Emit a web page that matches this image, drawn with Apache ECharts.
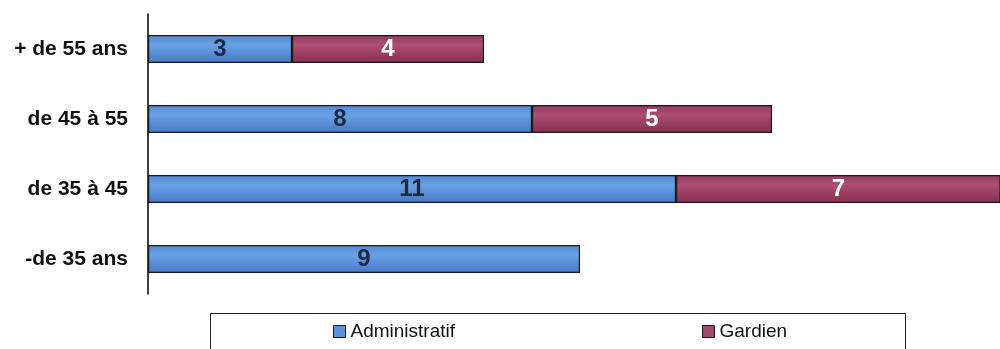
<!DOCTYPE html>
<html>
<head>
<meta charset="utf-8">
<script src="https://cdn.jsdelivr.net/npm/echarts@6/dist/echarts.min.js"></script>
<style>
  html, body { margin: 0; padding: 0; background: #fff; }
  #chart { width: 1000px; height: 349px; }
</style>
</head>
<body>
<div id="chart"></div>
<script>
// Age groups, top to bottom
const categories = ['+ de 55 ans', 'de 45 à 55', 'de 35 à 45', '-de 35 ans'];
const administratif = [3, 8, 11, 9];
const gardien = [4, 5, 7, null];

const FONT = 'Arial, "Liberation Sans", sans-serif';

const chart = echarts.init(document.getElementById('chart'));

const blueFill = new echarts.graphic.LinearGradient(0, 0, 0, 1, [
  { offset: 0, color: '#5486d0' },
  { offset: 0.35, color: '#6aa1e6' },
  { offset: 1, color: '#4877c2' }
]);
const maroonFill = new echarts.graphic.LinearGradient(0, 0, 0, 1, [
  { offset: 0, color: '#94395d' },
  { offset: 0.35, color: '#ad4d73' },
  { offset: 1, color: '#85304f' }
]);

const legendText = { fontFamily: FONT, fontSize: 19, color: '#111' };

chart.setOption({
  animation: false,
  backgroundColor: '#ffffff',
  grid: { left: 148, right: 0, top: 14, height: 280, containLabel: false },
  xAxis: {
    type: 'value',
    min: 0,
    max: 17.75,
    show: false
  },
  yAxis: {
    type: 'category',
    data: categories,
    inverse: true,
    axisLine: { show: true, lineStyle: { color: '#000', width: 1.5 } },
    axisTick: { show: false },
    axisLabel: {
      margin: 20,
      color: '#111',
      fontFamily: FONT,
      fontSize: 21,
      fontWeight: 'bold'
    }
  },
  legend: [
    {
      left: 333,
      top: 322,
      padding: 0,
      itemWidth: 12,
      itemHeight: 12,
      itemGap: 0,
      icon: 'rect',
      textStyle: legendText,
      data: [{ name: 'Administratif', itemStyle: { color: '#5b93da', borderColor: '#1a1a1a', borderWidth: 1 } }]
    },
    {
      left: 702,
      top: 322,
      padding: 0,
      itemWidth: 12,
      itemHeight: 12,
      itemGap: 0,
      icon: 'rect',
      textStyle: legendText,
      data: [{ name: 'Gardien', itemStyle: { color: '#a34a6c', borderColor: '#1a1a1a', borderWidth: 1 } }]
    }
  ],
  graphic: [
    {
      type: 'rect',
      z: -1,
      shape: { x: 210.5, y: 313.5, width: 695, height: 50 },
      style: { fill: '#fff', stroke: '#222', lineWidth: 1 }
    }
  ],
  series: [
    {
      name: 'Administratif',
      type: 'bar',
      stack: 'total',
      data: administratif,
      barCategoryGap: '60%',
      clip: true,
      itemStyle: { color: blueFill, borderColor: '#1a1a1a', borderWidth: 1.2 },
      label: {
        show: true,
        position: 'inside',
        color: '#1c2b45',
        fontFamily: FONT,
        fontSize: 24,
        fontWeight: 'bold'
      }
    },
    {
      name: 'Gardien',
      type: 'bar',
      stack: 'total',
      data: gardien,
      barCategoryGap: '60%',
      clip: true,
      itemStyle: { color: maroonFill, borderColor: '#1a1a1a', borderWidth: 1.2 },
      label: {
        show: true,
        position: 'inside',
        color: '#ffffff',
        fontFamily: FONT,
        fontSize: 24,
        fontWeight: 'bold'
      }
    }
  ]
});
</script>
</body>
</html>
